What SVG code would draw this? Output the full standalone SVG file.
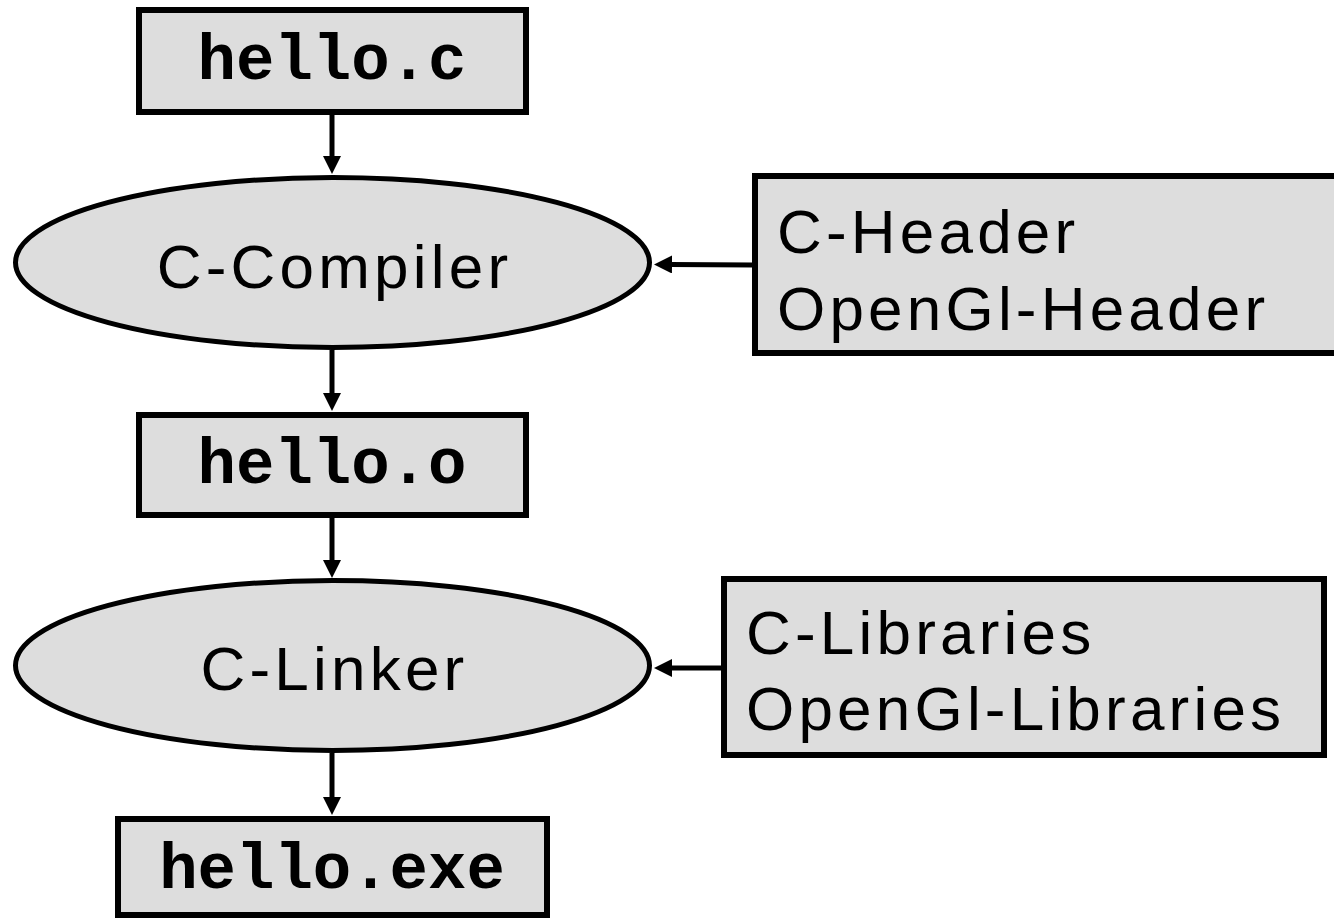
<svg xmlns="http://www.w3.org/2000/svg" width="1334" height="920" viewBox="0 0 1334 920">
<style>
.box{fill:#dddddd;stroke:#000;stroke-width:6}
.ell{fill:#dddddd;stroke:#000;stroke-width:5}
.mono{font-family:"Liberation Mono","Courier New",monospace;font-weight:bold;font-size:64px;fill:#000;text-anchor:middle}
.sans{font-family:"Liberation Sans",Arial,sans-serif;font-size:62px;fill:#000;letter-spacing:4.2px}
.mid{text-anchor:middle}
.conn line{stroke:#000;stroke-width:5;fill:none}
</style>
<defs>
<marker id="ah" markerUnits="userSpaceOnUse" viewBox="0 0 18 18" refX="2" refY="9" markerWidth="18" markerHeight="18" orient="auto">
<path d="M0,0 L18,9 L0,18 z" fill="#000"/>
</marker>
</defs>
<rect width="1334" height="920" fill="#fff"/>
<g id="connectors" class="conn">
<line x1="332" y1="114" x2="332" y2="158" marker-end="url(#ah)"/>
<line x1="332" y1="350" x2="332" y2="395" marker-end="url(#ah)"/>
<line x1="332" y1="518" x2="332" y2="562" marker-end="url(#ah)"/>
<line x1="332" y1="753" x2="332" y2="799" marker-end="url(#ah)"/>
<line x1="753" y1="265" x2="670" y2="264.5" marker-end="url(#ah)"/>
<line x1="722" y1="668" x2="670" y2="668" marker-end="url(#ah)"/>
</g>
<g id="hello_c">
<rect class="box" x="139" y="10" width="387" height="102"/>
<text class="mono" x="332" y="79">hello.c</text>
</g>
<g id="c_compiler">
<ellipse class="ell" cx="332.5" cy="262.5" rx="317" ry="85"/>
<text class="sans mid" x="334.5" y="288">C-Compiler</text>
</g>
<g id="c_header">
<rect class="box" x="755" y="176" width="700" height="177"/>
<text class="sans" x="777" y="253">C-Header</text>
<text class="sans" x="777" y="330">OpenGl-Header</text>
</g>
<g id="hello_o">
<rect class="box" x="139" y="415" width="387" height="100"/>
<text class="mono" x="332" y="483">hello.o</text>
</g>
<g id="c_linker">
<ellipse class="ell" cx="332.5" cy="665.5" rx="317" ry="85"/>
<text class="sans mid" x="334.5" y="690">C-Linker</text>
</g>
<g id="c_libraries">
<rect class="box" x="724" y="579" width="600" height="176"/>
<text class="sans" x="746" y="654">C-Libraries</text>
<text class="sans" x="746" y="730">OpenGl-Libraries</text>
</g>
<g id="hello_exe">
<rect class="box" x="118" y="819" width="429" height="96"/>
<text class="mono" x="332" y="888">hello.exe</text>
</g>
</svg>
